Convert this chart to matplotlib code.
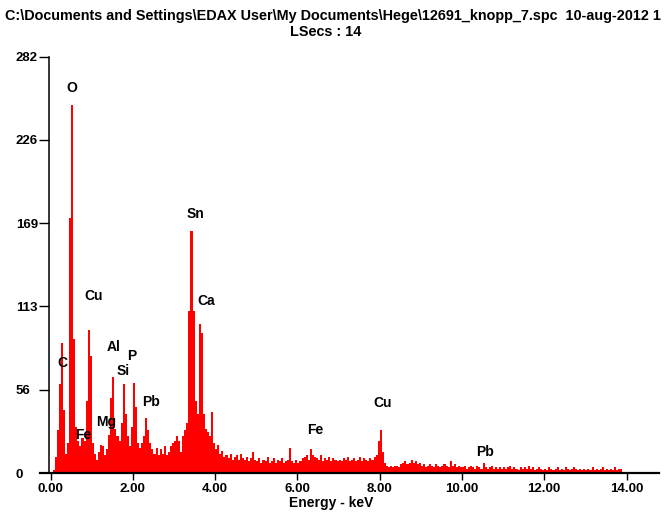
import numpy as np
import matplotlib
matplotlib.use("Agg")
import matplotlib.pyplot as plt

# EDAX spectrum, counts per 0.05 keV channel (one row = 1 keV)
channel_kev = 0.05
counts = [
    0, 2, 11, 29, 60, 88, 43, 13, 20, 173, 249, 91, 31, 22, 18, 24, 22, 49, 97, 79,   # 0-1
    20, 13, 9, 14, 19, 18, 12, 16, 26, 51, 65, 30, 25, 22, 34, 60, 40, 25, 18, 31,     # 1-2
    61, 45, 20, 17, 20, 25, 37, 29, 20, 16, 13, 17, 12, 16, 13, 18, 12, 14, 18, 20,    # 2-3
    22, 25, 22, 14, 25, 29, 34, 110, 164, 110, 49, 40, 101, 95, 40, 30, 28, 25, 41, 20,  # 3-4
    16, 19, 13, 15, 11, 12, 10, 13, 9, 11, 12, 9, 13, 10, 9, 11, 8, 10, 14, 9,         # 4-5
    8, 10, 7, 9, 8, 11, 7, 8, 10, 7, 9, 8, 10, 7, 8, 9, 17, 8, 7, 9,                   # 5-6
    7, 8, 10, 11, 12, 9, 16, 12, 11, 10, 9, 12, 8, 10, 9, 11, 8, 10, 9, 8,             # 6-7
    9, 8, 10, 9, 11, 8, 9, 10, 8, 9, 11, 8, 10, 9, 8, 10, 9, 11, 12, 22,               # 7-8
    29, 14, 7, 5, 4, 5, 4, 5, 5, 4, 6, 7, 8, 6, 7, 9, 7, 8, 6, 7,                      # 8-9
    5, 6, 4, 5, 6, 5, 4, 6, 5, 4, 5, 6, 5, 4, 8, 5, 6, 4, 5, 4,                        # 9-10
    4, 5, 3, 4, 5, 4, 3, 5, 4, 3, 7, 4, 3, 4, 5, 3, 4, 3, 4, 3,                        # 10-11
    4, 3, 4, 5, 3, 4, 3, 2, 4, 3, 4, 3, 5, 3, 4, 2, 3, 4, 3, 2,                        # 11-12
    3, 2, 4, 3, 2, 3, 4, 2, 3, 2, 4, 3, 2, 3, 4, 3, 2, 3, 2, 3,                        # 12-13
    2, 3, 2, 4, 2, 3, 2, 3, 4, 2, 3, 2, 3, 2, 4, 2, 3, 3, 0, 0,                        # 13-14
    0, 0, 0, 0, 0, 0, 1, 0, 0, 0, 0, 0, 0, 0, 0, 0,                                    # 14-14.8
]

peak_names = ["O", "C", "Cu", "Al", "P", "Si", "Mg", "Fe", "Pb", "Sn", "Ca", "Fe", "Cu", "Pb"]
peak_kev = [0.525, 0.282, 1.035, 1.52, 1.98, 1.765, 1.36, 0.79, 2.43, 3.52, 3.77, 6.44, 8.08, 10.57]
peak_label_counts = [260.6, 74.5, 119.9, 85.4, 79.5, 69.3, 34.8, 25.7, 48.1, 175.4, 116.7, 29.1, 47.6, 14.4]

y_ticks = [0, 56.4, 112.8, 169.2, 225.6, 282]
y_tick_labels = ["0", "56", "113", "169", "226", "282"]
x_ticks = [0, 2, 4, 6, 8, 10, 12, 14]

title_line1 = "C:\\Documents and Settings\\EDAX User\\My Documents\\Hege\\12691_knopp_7.spc  10-aug-2012 1"
title_line2 = "LSecs : 14"


def main():
    plt.rcParams["font.family"] = ["Liberation Sans", "DejaVu Sans"]
    plt.rcParams["font.weight"] = "bold"

    fig = plt.figure(figsize=(6.66, 5.13), dpi=100)
    ax = fig.add_axes([49 / 666, 40 / 513, 610 / 666, 416.3 / 513])

    energy = np.arange(len(counts)) * channel_kev
    ax.bar(energy, counts, width=channel_kev, align="edge", color="#ff0000", linewidth=0)

    for name, x, y in zip(peak_names, peak_kev, peak_label_counts):
        ax.text(x, y, name, ha="center", va="center", fontsize=10, fontweight="bold")

    ax.set_xlim(-0.04, 14.79)
    ax.set_ylim(0, 282)
    ax.spines["top"].set_visible(False)
    ax.spines["right"].set_visible(False)
    ax.spines["bottom"].set_linewidth(1.6)
    ax.spines["bottom"].set_bounds(-0.26, 14.79)
    ax.spines["left"].set_linewidth(1.1)

    ax.set_xticks(x_ticks)
    ax.set_xticklabels([f"{t:.2f}" for t in x_ticks])
    ax.set_yticks(y_ticks)
    ax.set_yticklabels(y_tick_labels)
    ax.tick_params(axis="x", direction="out", length=5, width=1, pad=2, labelsize=9.5)
    ax.tick_params(axis="y", direction="out", length=7.2, width=1, pad=16.6, labelsize=9.5)
    for lab in ax.get_yticklabels():
        lab.set_horizontalalignment("left")
    ax.yaxis.get_major_ticks()[0].tick1line.set_visible(False)

    fig.text(5 / 666, 1 - 16 / 513, title_line1, ha="left", va="center", fontsize=10.4, fontweight="bold")
    fig.text(326 / 666, 1 - 31.5 / 513, title_line2, ha="center", va="center", fontsize=10.4, fontweight="bold")
    fig.text(331 / 666, 1 - 503 / 513, "Energy - keV", ha="center", va="center", fontsize=10, fontweight="bold")

    fig.savefig("out.png", dpi=100)


if __name__ == '__main__':
    main()
